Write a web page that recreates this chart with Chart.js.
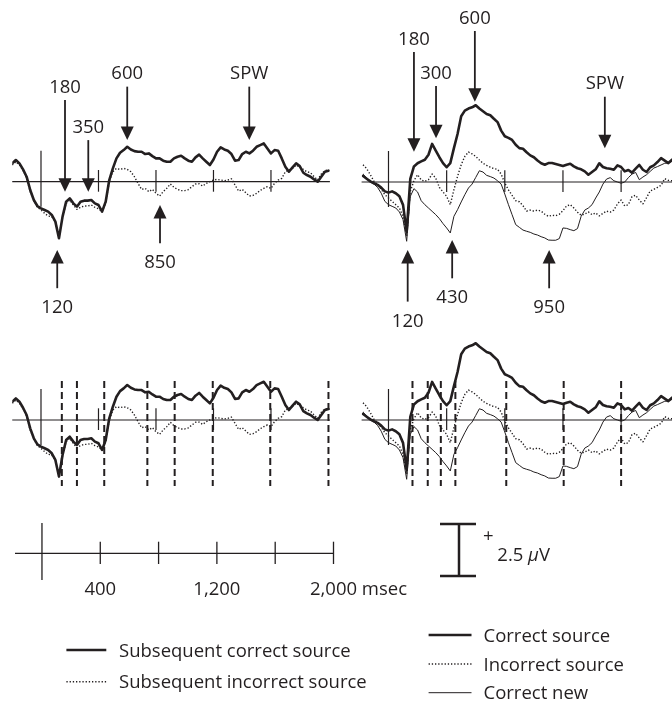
<!DOCTYPE html>
<html>
<head>
<meta charset="utf-8">
<title>ERP source memory waveforms</title>
<script src="https://cdn.jsdelivr.net/npm/chart.js@4.4.1/dist/chart.umd.min.js"></script>
<style>
  html, body { margin: 0; padding: 0; background: #fff; overflow: hidden; }
  #wrap { position: relative; width: 672px; height: 702px; }
  canvas { position: absolute; }
</style>
</head>
<body>
<div id="wrap">
  <canvas id="tl" width="340" height="330" style="left:0;top:0"></canvas>
  <canvas id="tr" width="332" height="330" style="left:340px;top:0"></canvas>
  <canvas id="bl" width="340" height="170" style="left:0;top:330px"></canvas>
  <canvas id="br" width="332" height="170" style="left:340px;top:330px"></canvas>
  <canvas id="keys" width="672" height="202" style="left:0;top:500px"></canvas>
</div>
<script>
// ── Data (ms, µV) ─────────────────────────────────────────────────────────────
const TIMES = [
  -200, -175, -150, -125, -100, -75, -50, -25, 0,
  25, 50, 75, 100, 125, 150, 175, 200,
  225, 250, 275, 300, 325, 350, 375, 400,
  425, 450, 475, 500, 525, 550, 575, 600,
  625, 650, 675, 700, 725, 750, 775, 800,
  825, 850, 875, 900, 925, 950, 975, 1000,
  1025, 1050, 1075, 1100, 1125, 1150, 1175, 1200,
  1225, 1250, 1275, 1300, 1325, 1350, 1375, 1400,
  1425, 1450, 1475, 1500, 1525, 1550, 1575, 1600,
  1625, 1650, 1675, 1700, 1725, 1750, 1775, 1800,
  1825, 1850, 1875, 1900, 1925, 1950, 1975, 2000,
];

// left column: subsequent memory
const SUBSEQ_CORRECT = [
  0.88, 1.04, 0.88, 0.59, 0.24, -0.40, -0.88, -1.17, -1.28,
  -1.36, -1.44, -1.60, -1.92, -2.72, -1.68, -0.96, -0.80,
  -1.04, -1.20, -0.96, -0.91, -0.91, -0.88, -1.04, -1.12,
  -1.44, -0.96, 0.08, 0.64, 1.12, 1.39, 1.52, 1.68,
  1.55, 1.47, 1.44, 1.44, 1.33, 1.36, 1.23, 1.12,
  1.12, 1.01, 0.96, 0.96, 1.12, 1.20, 1.25, 1.12,
  1.01, 0.96, 1.17, 1.30, 1.12, 0.96, 0.80, 1.07,
  1.44, 1.65, 1.55, 1.49, 1.33, 1.01, 1.04, 1.33,
  1.44, 1.36, 1.49, 1.68, 1.76, 1.84, 1.60, 1.36,
  1.52, 1.49, 1.12, 0.72, 0.48, 0.69, 0.88, 0.75,
  0.43, 0.32, 0.24, 0.11, 0.00, 0.24, 0.48, 0.53,
];
const SUBSEQ_INCORRECT = [
  0.80, 0.96, 0.80, 0.56, 0.16, -0.48, -0.91, -1.23, -1.36,
  -1.52, -1.65, -1.68, -1.92, -2.61, -1.71, -1.04, -0.88,
  -1.12, -1.33, -1.23, -1.17, -1.17, -1.12, -1.23, -1.30,
  -1.44, -1.01, 0.00, 0.48, 0.64, 0.59, 0.64, 0.59,
  0.48, 0.24, -0.08, -0.37, -0.32, -0.48, -0.37, -0.56,
  -0.69, -0.48, -0.32, -0.11, -0.27, -0.37, -0.43, -0.43,
  -0.38, -0.24, -0.11, -0.10, -0.21, -0.08, 0.00, 0.08,
  0.11, 0.08, 0.05, 0.08, 0.14, -0.16, -0.45, -0.37,
  -0.53, -0.69, -0.66, -0.56, -0.42, -0.32, -0.24, -0.32,
  -0.08, 0.08, 0.16, 0.48, 0.56, 0.64, 0.80, 0.72,
  0.59, 0.48, 0.43, 0.24, 0.08, 0.37, 0.53, 0.56,
];

// right column: retrieval
const CORRECT_SOURCE = [
  null, 0.29, 0.16, 0.03, -0.06, -0.14, -0.27, -0.45, -0.51,
  -0.45, -0.54, -0.69, -1.10, -2.40, 0.15, 0.75, 0.90,
  0.99, 1.07, 1.31, 1.83, 1.51, 1.19, 0.91, 0.71,
  0.91, 1.63, 2.31, 3.16, 3.43, 3.53, 3.59, 3.69,
  3.53, 3.40, 3.27, 3.21, 3.04, 2.88, 2.47, 2.20,
  2.12, 2.02, 1.79, 1.63, 1.60, 1.43, 1.28, 1.19,
  1.03, 0.90, 0.83, 0.91, 0.91, 0.87, 0.82, 0.77,
  0.83, 0.88, 0.75, 0.66, 0.61, 0.51, 0.35, 0.48,
  0.61, 0.90, 0.72, 0.66, 0.64, 0.59, 0.80, 0.72,
  0.51, 0.58, 0.45, 0.64, 0.82, 0.59, 0.48, 0.71,
  0.80, 0.96, 1.15, 1.03, 0.91, 1.07, null, null,
];
const INCORRECT_SOURCE = [
  null, 0.83, 0.64, 0.35, 0.03, -0.13, -0.35, -0.61, -0.77,
  -0.93, -1.09, -1.25, -1.65, -2.60, -0.45, 0.06, 0.35,
  0.10, 0.03, 0.11, 0.38, 0.19, -0.26, -0.48, -0.69,
  -1.09, -0.37, 0.27, 0.83, 1.23, 1.44, 1.35, 1.23,
  1.06, 0.90, 0.80, 0.71, 0.64, 0.61, 0.38, -0.05,
  -0.38, -0.64, -0.90, -0.95, -1.14, -1.40, -1.35, -1.40,
  -1.35, -1.40, -1.55, -1.65, -1.60, -1.62, -1.55, -1.38,
  -1.15, -1.09, -1.25, -1.45, -1.60, -1.54, -1.44, -1.57,
  -1.49, -1.63, -1.51, -1.40, -1.45, -1.35, -1.05, -0.87,
  -1.15, -1.09, -0.70, -0.64, -0.87, -1.05, -0.75, -0.43,
  -0.35, -0.26, -0.16, 0.16, 0.08, 0.06, null, null,
];
const CORRECT_NEW = [
  null, 0.38, 0.19, 0.00, -0.10, -0.26, -0.54, -0.93, -1.09,
  -1.17, -1.25, -1.44, -1.81, -2.85, -0.69, -0.32, -0.48,
  -0.90, -1.09, -1.25, -1.41, -1.57, -1.76, -2.00, -2.21,
  -2.45, -1.65, -1.33, -0.96, -0.61, -0.29, -0.10, 0.22,
  0.54, 0.48, 0.32, 0.26, 0.19, 0.06, -0.10, -0.58,
  -1.09, -1.57, -2.05, -2.18, -2.31, -2.37, -2.42, -2.50,
  -2.55, -2.63, -2.69, -2.79, -2.80, -2.80, -2.72, -2.21,
  -2.23, -2.29, -2.34, -2.24, -1.65, -1.35, -1.25, -1.09,
  -0.77, -0.48, -0.10, 0.14, 0.21, 0.06, 0.00, -0.06,
  0.00, 0.21, 0.38, 0.46, 0.11, 0.24, 0.35, 0.51,
  0.67, 0.74, 0.82, 0.90, 0.91, 0.99, null, null,
];

// epoch ticks
const ONSET = 0;
const TICK_TIMES = [400, 800, 1200, 1600];

// analysis windows (bottom row)
const LEFT_WINDOWS = [145, 250, 440, 740, 930, 1195, 1595, 2000];
const RIGHT_WINDOWS = [165, 270, 360, 460, 810, 1205, 1600];

// peak markers: [label, ms, tip µV, tail µV]
const LEFT_ARROWS = [
  ["180", 167, -0.48, 3.93],
  ["350", 329, -0.48, 2.00],
  ["600", 600, 2.00, 4.57],
  ["SPW", 1449, 2.00, 4.57],
  ["120", 113, -3.28, -5.12],
  ["850", 828, -1.12, -2.96],
];
const RIGHT_ARROWS = [
  ["180", 175, 1.46, 6.25],
  ["300", 327, 2.10, 4.62],
  ["600", 594, 3.86, 7.26],
  ["SPW", 1488, 1.62, 4.10],
  ["120", 132, -3.27, -5.75],
  ["430", 438, -2.79, -4.63],
  ["950", 1105, -3.27, -5.11],
];

// calibration
const SCALE_TICKS = [0, 400, 800, 1200, 1600, 2000];
const SCALE_LABELS = [400, 1200, 2000];
const SCALE_UNIT = "msec";
const BAR_UV = 2.5;

const LEGEND_LEFT = [
  ["Subsequent correct source", "thick"],
  ["Subsequent incorrect source", "dotted"],
];
const LEGEND_RIGHT = [
  ["Correct source", "thick"],
  ["Incorrect source", "dotted"],
  ["Correct new", "thin"],
];

// ── Styles ────────────────────────────────────────────────────────────────────
const INK = "#231f20";
const FONT = '18.5px "Open Sans"';
const PX_PER_UV = 20.8;
const STYLES = {
  thick:  { width: 2.6, dash: [] },
  dotted: { width: 1.4, dash: [1.3, 1.9] },
  thin:   { width: 1.0, dash: [] },
};

// ── Helpers ───────────────────────────────────────────────────────────────────
function stroke(ctx, x1, y1, x2, y2, w, dash) {
  ctx.save();
  ctx.strokeStyle = INK;
  ctx.lineWidth = w;
  ctx.setLineDash(dash || []);
  ctx.beginPath();
  ctx.moveTo(x1, y1);
  ctx.lineTo(x2, y2);
  ctx.stroke();
  ctx.restore();
}

function label(ctx, str, x, y, align, font) {
  ctx.save();
  ctx.fillStyle = INK;
  ctx.font = font || FONT;
  ctx.textAlign = align || "center";
  ctx.textBaseline = "alphabetic";
  ctx.fillText(str, x, y);
  const w = ctx.measureText(str).width;
  ctx.restore();
  return w;
}

function arrow(ctx, x, tipY, tailY) {
  const dir = tailY < tipY ? -1 : 1;
  const HEAD_L = 13.5, HEAD_W = 6.5;
  stroke(ctx, x, tailY, x, tipY + dir * HEAD_L * 0.8, 1.8);
  ctx.save();
  ctx.fillStyle = INK;
  ctx.beginPath();
  ctx.moveTo(x, tipY);
  ctx.lineTo(x - HEAD_W, tipY + dir * HEAD_L);
  ctx.lineTo(x + HEAD_W, tipY + dir * HEAD_L);
  ctx.closePath();
  ctx.fill();
  ctx.restore();
}

// ── Panels ────────────────────────────────────────────────────────────────────
function panelDecor(cfg) {
  return {
    id: "decor",
    beforeDatasetsDraw(chart) {
      const { ctx, chartArea: a, scales: { x, y } } = chart;
      const y0 = y.getPixelForValue(0);
      stroke(ctx, a.left, y0, a.right, y0, 1.2);
      const px0 = x.getPixelForValue(ONSET);
      stroke(ctx, px0, y0 - 31, px0, y0 + 25, 1.2);
      TICK_TIMES.forEach(t => {
        const px = x.getPixelForValue(t);
        stroke(ctx, px, y0 - 11.7, px, y0 + 10, 1.2);
      });
      (cfg.windows || []).forEach(t => {
        const px = x.getPixelForValue(t);
        stroke(ctx, px, y0 - 39, px, y0 + 66, 2, [7, 4]);
      });
    },
    afterDatasetsDraw(chart) {
      const { ctx, scales: { x, y } } = chart;
      (cfg.arrows || []).forEach(([text, t, tipUv, tailUv]) => {
        const px = x.getPixelForValue(t);
        const tipY = y.getPixelForValue(tipUv);
        const tailY = y.getPixelForValue(tailUv);
        arrow(ctx, px, tipY, tailY);
        if (tailY < tipY) label(ctx, text, px, tailY - 7.4);
        else label(ctx, text, px, tailY + 25);
      });
    },
  };
}

function makePanel(id, cfg) {
  const canvas = document.getElementById(id);
  const h = canvas.height;
  return new Chart(canvas, {
    type: "line",
    data: {
      datasets: cfg.series.map(([values, style]) => ({
        data: TIMES.map((t, i) => ({ x: t, y: values[i] })),
        borderColor: INK,
        borderWidth: STYLES[style].width,
        borderDash: STYLES[style].dash,
        borderCapStyle: style === "dotted" ? "butt" : "round",
        borderJoinStyle: "round",
        pointRadius: 0,
        tension: 0,
        fill: false,
        spanGaps: false,
      })),
    },
    options: {
      responsive: false,
      animation: false,
      devicePixelRatio: 1,
      events: [],
      layout: { padding: { left: cfg.padLeft, right: cfg.padRight, top: 0, bottom: 0 } },
      plugins: { legend: { display: false }, tooltip: { enabled: false } },
      scales: {
        x: { type: "linear", display: false, min: cfg.xMin, max: cfg.xMax },
        y: { display: false, min: -(h - cfg.zero) / PX_PER_UV, max: cfg.zero / PX_PER_UV },
      },
    },
    plugins: [panelDecor(cfg)],
  });
}

const LEFT_SERIES = [[SUBSEQ_CORRECT, "thick"], [SUBSEQ_INCORRECT, "dotted"]];
const RIGHT_SERIES = [[CORRECT_SOURCE, "thick"], [INCORRECT_SOURCE, "dotted"], [CORRECT_NEW, "thin"]];
const LEFT_X = { xMin: -200, xMax: 2010, padLeft: 12.25, padRight: 10.1 };
const RIGHT_X = { xMin: -185, xMax: 1950, padLeft: 21.6, padRight: 0 };

makePanel("tl", { ...LEFT_X, zero: 181.7, series: LEFT_SERIES, arrows: LEFT_ARROWS });
makePanel("tr", { ...RIGHT_X, zero: 182, series: RIGHT_SERIES, arrows: RIGHT_ARROWS });
makePanel("bl", { ...LEFT_X, zero: 90, series: LEFT_SERIES, windows: LEFT_WINDOWS });
makePanel("br", { ...RIGHT_X, zero: 90, series: RIGHT_SERIES, windows: RIGHT_WINDOWS });

// ── Calibration + legend ──────────────────────────────────────────────────────
const keysDecor = {
  id: "keys",
  afterDraw(chart) {
    const { ctx, scales: { x, y } } = chart;
    const AXIS_Y = 53.3;
    stroke(ctx, x.getPixelForValue(x.min), AXIS_Y, x.getPixelForValue(SCALE_TICKS[SCALE_TICKS.length - 1]), AXIS_Y, 1.3);
    SCALE_TICKS.forEach(t => {
      const px = x.getPixelForValue(t);
      if (t === ONSET) stroke(ctx, px, 23, px, 80, 1.3);
      else stroke(ctx, px, 41.7, px, 64, 1.3);
    });
    SCALE_LABELS.forEach((t, i) => {
      const px = x.getPixelForValue(t);
      const num = t.toLocaleString("en-US");
      if (i === SCALE_LABELS.length - 1) {
        ctx.save(); ctx.font = FONT;
        const w = ctx.measureText(num).width;
        ctx.restore();
        label(ctx, num + " " + SCALE_UNIT, px - w / 2, 94.9, "left");
      } else {
        label(ctx, num, px, 94.9);
      }
    });

    // µV bar
    const bx = 459;
    const yTop = y.getPixelForValue(BAR_UV), yBot = y.getPixelForValue(0);
    stroke(ctx, bx, yTop, bx, yBot, 2.5);
    stroke(ctx, 440, yTop, 476, yTop, 2.6);
    stroke(ctx, 440, yBot, 476, yBot, 2.6);
    label(ctx, "+", 488.3, 42);
    let tx = 497.3;
    tx += label(ctx, BAR_UV + " ", tx, 60.7, "left");
    tx += label(ctx, "\u00b5", tx, 60.7, "left", 'italic 18.5px "Open Sans"');
    label(ctx, "V", tx, 60.7, "left");

    // legends
    const drawKey = (items, x1, x2, tx, ys) => {
      items.forEach(([text, style], i) => {
        const s = STYLES[style];
        stroke(ctx, x1, ys[i], x2, ys[i], s.width, s.dash);
        label(ctx, text, tx, ys[i] + 6.5, "left");
      });
    };
    drawKey(LEGEND_LEFT, 66.4, 106.3, 119, [150, 181.7]);
    drawKey(LEGEND_RIGHT, 428.6, 471.5, 483.5, [135, 164, 192.7]);
  },
};

new Chart(document.getElementById("keys"), {
  type: "line",
  data: { datasets: [] },
  options: {
    responsive: false,
    animation: false,
    devicePixelRatio: 1,
    events: [],
    layout: { padding: { left: 15, right: 338.5, top: 0, bottom: 0 } },
    plugins: { legend: { display: false }, tooltip: { enabled: false } },
    scales: {
      x: { type: "linear", display: false, min: -185, max: 2000 },
      y: { display: false, min: -126 / PX_PER_UV, max: 76 / PX_PER_UV },
    },
  },
  plugins: [keysDecor],
});
</script>
</body>
</html>
